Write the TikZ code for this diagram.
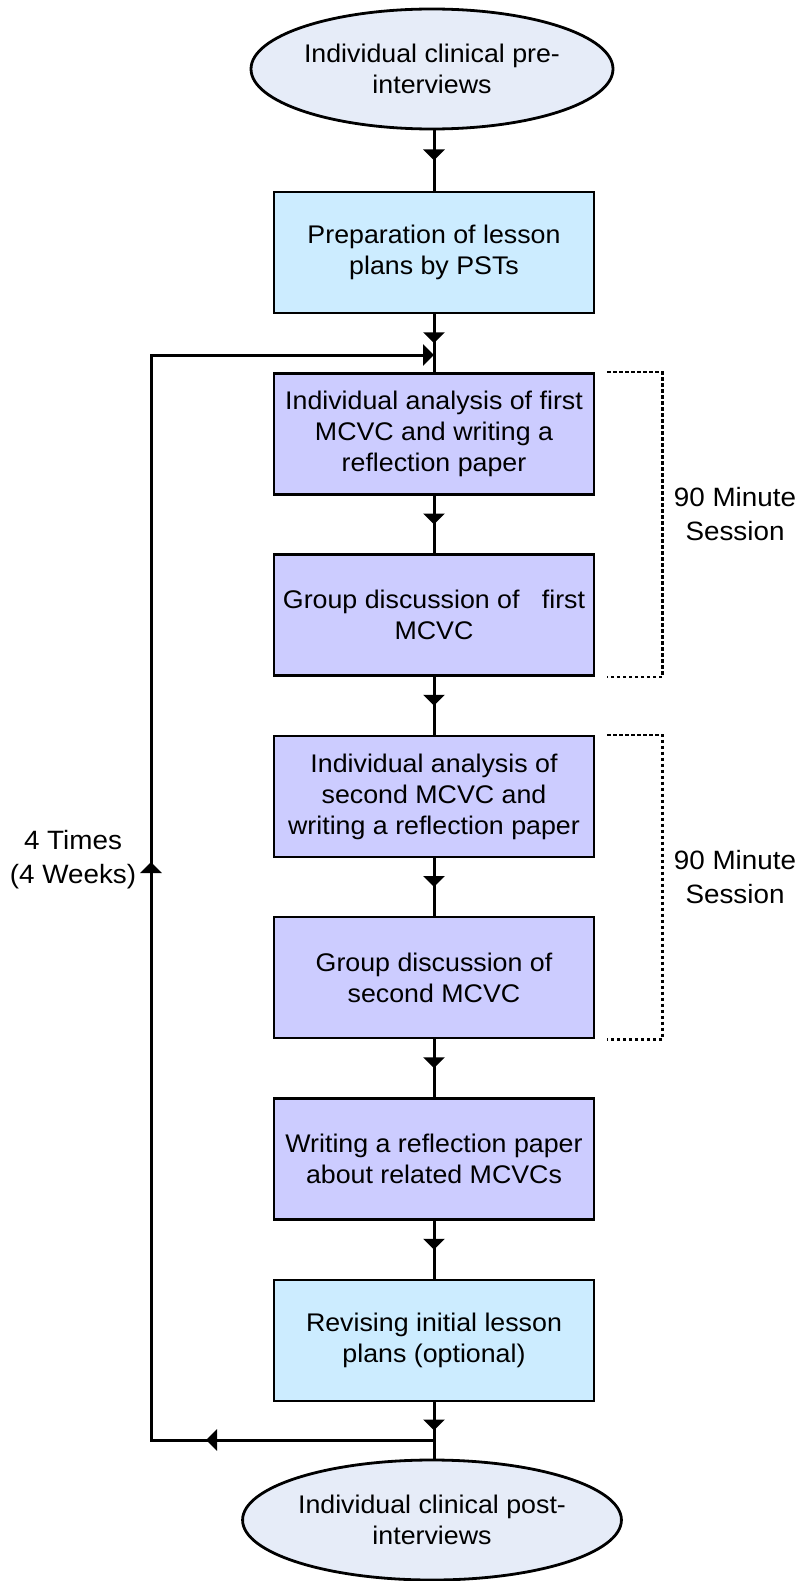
\documentclass[tikz,border=0pt]{standalone}
\usepackage{fontspec}
\setmainfont[FakeStretch=1.05]{Liberation Sans}
\usetikzlibrary{shapes.geometric,arrows.meta,decorations.markings}

\definecolor{ovalfill}{HTML}{E6ECF8}
\definecolor{planfill}{HTML}{CCECFF}
\definecolor{stagefill}{HTML}{CCCCFF}

\begin{document}
\begin{tikzpicture}[x=1pt,y=-1pt,
  every node/.style={font=\fontsize{25.5}{31}\selectfont, align=center},
  oval/.style={ellipse, draw, line width=2.8pt, fill=ovalfill,
    minimum width=352pt, minimum height=120pt, inner sep=0pt},
  planbox/.style={rectangle, draw, line width=2.8pt, fill=planfill,
    minimum width=320pt, minimum height=121pt, inner sep=0pt},
  stagebox/.style={planbox, fill=stagefill},
  flowtip/.tip={Triangle[width=21pt,length=11pt]},
  link/.style={line width=3pt},
  midtip/.style={link, postaction={decorate},
    decoration={markings, mark=at position #1 with {\arrow{flowtip}}}},
  midtip/.default=0.5,
  bracket/.style={line width=2.2pt, dash pattern=on 3.5pt off 2.5pt},
  sidelabel/.style={font=\fontsize{26.5}{34}\selectfont}
]
\useasboundingbox (0,0) rectangle (800,1581);
\fill[white] (0,0) rectangle (800,1581);

% stages of the cycle
\node[oval] (pre) at (432,69) {Individual clinical pre-\\interviews};
\node[planbox] (prep) at (434,252.5) {Preparation of lesson\\plans by PSTs};
\node[stagebox] (a1) at (434,434) {Individual analysis of first\\MCVC and writing a\\reflection paper};
\node[stagebox] (g1) at (434,615) {Group discussion of\ \ \ first\\MCVC};
\node[stagebox] (a2) at (434,796.5) {Individual analysis of\\second MCVC and\\writing a reflection paper};
\node[stagebox] (g2) at (434,977.5) {Group discussion of\\second MCVC};
\node[stagebox] (wr) at (434,1159) {Writing a reflection paper\\about related MCVCs};
\node[planbox] (rev) at (434,1340.5) {Revising initial lesson\\plans (optional)};
\node[oval] (post) at (432,1520) {Individual clinical post-\\interviews};

% straight flow
\draw[midtip] (pre.south -| prep.north) -- (prep.north);
\draw[midtip] (prep) -- (a1);
\draw[midtip] (a1) -- (g1);
\draw[midtip] (g1) -- (a2);
\draw[midtip] (a2) -- (g2);
\draw[midtip] (g2) -- (wr);
\draw[midtip] (wr) -- (rev);
\draw[midtip] (rev.south) -- (post.north -| rev.south);

% weekly repetition loop
\coordinate (loopstart) at (434,1440);
\coordinate (loopleft) at (151,1440);
\coordinate (looptop) at (151,355);
\coordinate (loopend) at (434,355);
\draw[link, -flowtip, postaction={decorate},
  decoration={markings,
    mark=at position 228pt with {\arrow{flowtip}},
    mark=at position 861pt with {\arrow{flowtip}}}]
  (loopstart) -- (loopleft) -- (looptop) -- (loopend);

% session brackets
\draw[bracket] ([xshift=12pt]a1.north east) -| ([xshift=67pt]g1.south east) -- ([xshift=12pt]g1.south east);
\draw[bracket] ([xshift=12pt]a2.north east) -| ([xshift=67pt]g2.south east) -- ([xshift=12pt]g2.south east);

% side labels
\node[sidelabel] (s1) at (735,514.5) {90 Minute\\Session};
\node[sidelabel] (s2) at (735,877.5) {90 Minute\\Session};
\node[sidelabel] (times) at (73,860) {4 Times\\(4 Weeks)};
\end{tikzpicture}
\end{document}
